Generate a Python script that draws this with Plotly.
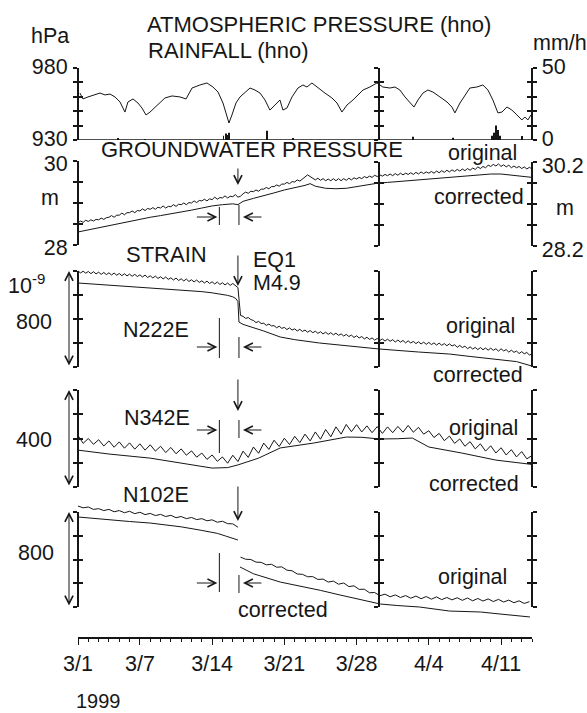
import plotly.graph_objects as go

# ---------------------------------------------------------------- data
# time axis: days since 1999-03-01
DATE_TICKS = [0, 6, 13, 20, 27, 34, 41]
DATE_LABELS = ["3/1", "3/7", "3/14", "3/21", "3/28", "4/4", "4/11"]
EQ_DAY = 15.5                 # EQ1, M4.9
WIN_START, WIN_END = 13.7, 15.6

# atmospheric pressure (hPa)
PRESS_DAY = [
    0.19, 0.48, 0.97, 1.65, 2.13, 2.62, 3.10, 3.59, 4.07, 4.55,
    4.84, 5.33, 5.81, 6.20, 6.59, 6.98, 7.66, 8.43, 9.11, 9.88,
    10.47, 11.05, 11.82, 12.50, 13.08, 13.57, 14.05, 14.44, 14.63, 14.92,
    15.31, 15.70, 16.18, 16.67, 17.15, 17.64, 18.12, 18.60, 19.09, 19.57,
    19.86, 20.25, 20.74, 21.32, 21.80, 22.19, 22.67, 23.26, 23.93, 24.61,
    25.10, 25.58, 26.07, 26.65, 27.13, 27.62, 28.29, 28.97, 29.55, 30.23,
    30.72, 31.20, 31.69, 32.17, 32.56, 32.95, 33.43, 33.91, 34.40, 35.08,
    35.76, 36.24, 36.53, 37.02, 37.50, 37.98, 38.66, 39.24, 39.73, 40.21,
    40.70, 41.09, 41.57, 42.05, 42.54, 43.02, 43.31, 43.60, 43.90]
PRESS_HPA = [
    962.6, 958.5, 959.9, 961.3, 962.6, 961.3, 961.9, 959.9, 956.4, 949.4,
    956.4, 958.5, 955.7, 952.2, 947.4, 949.4, 954.3, 959.2, 960.6, 959.9,
    958.5, 966.1, 968.2, 969.6, 966.8, 963.3, 955.7, 945.3, 941.8, 947.4,
    955.7, 959.9, 963.3, 966.1, 964.7, 962.6, 957.8, 950.8, 954.3, 957.8,
    950.8, 952.2, 959.9, 966.1, 968.2, 966.8, 969.6, 966.1, 962.6, 959.2,
    955.7, 949.4, 954.3, 957.8, 961.3, 964.7, 966.8, 969.6, 966.8, 966.1,
    966.8, 964.7, 959.9, 955.7, 952.9, 957.8, 962.6, 964.7, 963.3, 959.9,
    956.4, 952.9, 948.8, 955.7, 961.3, 966.1, 966.8, 968.2, 964.7, 957.8,
    948.8, 949.4, 952.9, 950.8, 947.4, 943.9, 946.0, 943.9, 947.4]

# hourly rainfall (mm/h)
RAIN_DAY = [3.9, 6.5, 14.1, 14.3, 14.5, 14.6, 18.3, 20.8, 32.5, 36.3,
            40.1, 40.3, 40.5, 40.7, 40.9, 43.0]
RAIN_MMH = [0.8, 0.5, 3.0, 4.5, 3.5, 5.0, 6.5, 1.2, 2.2, 1.5,
            3.0, 5.0, 10.0, 7.0, 3.0, 2.8]

# groundwater pressure head (m), original sampled every 6 h
GW_STEP = 0.25
GW_ORIG = [
    28.53, 28.57, 28.54, 28.59,  28.56, 28.60, 28.57, 28.61,
    28.60, 28.64, 28.61, 28.65,  28.66, 28.70, 28.66, 28.71,
    28.71, 28.76, 28.72, 28.77,  28.77, 28.81, 28.77, 28.82,
    28.81, 28.86, 28.82, 28.87,  28.85, 28.89, 28.85, 28.90,
    28.88, 28.93, 28.88, 28.92,  28.91, 28.96, 28.92, 28.97,
    28.96, 29.00, 28.96, 29.01,  29.00, 29.05, 29.01, 29.06,
    29.05, 29.09, 29.05, 29.10,  29.08, 29.14, 29.09, 29.13,
    29.12, 29.17, 29.12, 29.16,  29.15, 29.20, 29.14, 29.16,
    29.22, 29.26, 29.23, 29.28,  29.27, 29.31, 29.28, 29.33,
    29.33, 29.37, 29.34, 29.39,  29.39, 29.43, 29.40, 29.45,
    29.45, 29.49, 29.46, 29.51,  29.50, 29.55, 29.52, 29.58,
    29.62, 29.67, 29.63, 29.60,  29.55, 29.59, 29.54, 29.58,
    29.53, 29.57, 29.53, 29.58,  29.53, 29.58, 29.53, 29.58,
    29.54, 29.59, 29.55, 29.60,  29.57, 29.61, 29.58, 29.63,
    29.60, 29.64, 29.61, 29.66,  29.63, 29.67, 29.64, 29.68,
    29.65, 29.69, 29.65, 29.70,  29.66, 29.71, 29.67, 29.71,
    29.68, 29.72, 29.68, 29.73,  29.69, 29.74, 29.70, 29.74,
    29.71, 29.75, 29.71, 29.76,  29.72, 29.77, 29.73, 29.78,
    29.74, 29.79, 29.75, 29.80,  29.76, 29.81, 29.77, 29.82,
    29.78, 29.83, 29.80, 29.86,  29.82, 29.87, 29.84, 29.90,
    29.87, 29.92, 29.88, 29.93,  29.87, 29.91, 29.86, 29.90,
    29.84, 29.88, 29.84, 29.87,  29.82, 29.86, 29.81, 29.85,
    29.81]
GW_CORR_DAY = [0, 1, 2, 3, 4, 5, 6, 7, 8, 9, 10, 11, 12, 13, 14, 15, 15.5,
               16, 17, 18, 19, 20, 21, 22, 22.5, 23, 24, 25, 26, 27, 28, 29,
               30, 31, 32, 33, 34, 35, 36, 37, 38, 39, 40, 41, 42, 43, 44]
GW_CORR = [28.31, 28.36, 28.41, 28.47, 28.52, 28.57, 28.62, 28.66, 28.70,
           28.74, 28.78, 28.83, 28.88, 28.93, 28.96, 28.98, 28.96,
           29.04, 29.11, 29.17, 29.24, 29.31, 29.36, 29.42, 29.46, 29.40,
           29.35, 29.34, 29.35, 29.39, 29.43, 29.47, 29.49, 29.51, 29.53,
           29.55, 29.57, 29.59, 29.61, 29.63, 29.65, 29.67, 29.69, 29.69,
           29.66, 29.63, 29.61]

# strain N222E (1e-9), original sampled every 6 h
N222E_STEP = 0.25
N222E_ORIG = [
    800, 784, 798, 782,  796, 778, 794, 776,  790, 772, 788, 770,
    785, 767, 783, 765,  779, 761, 777, 759,  774, 756, 772, 754,
    768, 750, 766, 746,  760, 742, 758, 738,  752, 734, 750, 730,
    743, 725, 741, 721,  735, 717, 733, 713,  727, 709, 725, 705,
    718, 700, 716, 696,  710, 692, 708, 688,  702, 684, 700, 680,
    696, 678, 662, 430,  422, 405, 412, 395,  388, 370, 380, 362,
    365, 347, 358, 342,  345, 327, 340, 322,  330, 312, 326, 308,
    318, 300, 314, 296,  308, 290, 304, 286,  298, 280, 294, 276,
    290, 272, 286, 268,  282, 264, 276, 258,  272, 254, 266, 246,
    260, 242, 254, 234,  248, 230, 242, 224,  238, 220, 234, 216,
    232, 214, 228, 208,  225, 207, 221, 201,  218, 200, 213, 195,
    210, 192, 207, 189,  205, 187, 201, 183,  199, 181, 195, 177,
    193, 175, 186, 164,  180, 162, 174, 152,  168, 150, 163, 145,
    162, 144, 158, 140,  157, 139, 152, 132,  152, 134, 145, 124,
    140, 122, 133, 112,  128, 110, 121, 100,
    108]
N222E_CORR_DAY = [0, 2, 4, 6, 8, 10, 12, 13, 14, 14.5, 15, 15.3, 15.5, 15.6,
                  16, 17, 18, 19.6, 21, 23.4, 26, 29.2, 33, 36, 38, 41, 42.5, 44]
N222E_CORR = [700, 689, 678, 667, 656, 645, 628, 618, 605, 597, 585, 570, 545,
              375, 355, 328, 300, 250, 228, 200, 175, 150, 125, 108, 88, 62,
              45, 8]

# strain N342E (1e-9), original sampled every 12 h
N342E_STEP = 0.5
N342E_ORIG = [
    212, 180, 200, 176, 195, 169, 190, 164, 186, 160, 182, 156,
    178, 152, 174, 148, 168, 142, 163, 137, 157, 131, 149, 123,
    140, 114, 132, 106, 124, 98, 131, 105, 148, 122, 165, 139,
    181, 155, 193, 167, 201, 175, 209, 183, 218, 190, 227, 197,
    237, 207, 248, 218, 258, 228, 257, 227, 252, 224, 249, 221,
    248, 224, 250, 226, 254, 226, 246, 218, 232, 204, 221, 191,
    210, 180, 198, 168, 187, 157, 178, 148, 170, 140, 162, 132,
    154, 124, 146, 116, 130]
N342E_CORR_DAY = [0, 3, 7, 10, 13, 14.5, 15.5, 17.5, 19.6, 22.8, 26, 27.5,
                  29.2, 31, 32.4, 34, 37.2, 40.5, 43.5, 44]
N342E_CORR = [152, 136, 119, 99, 78, 80, 91, 119, 161, 181, 206, 205, 198,
              199, 202, 165, 140, 111, 95, 93]

# strain N102E (1e-9), original sampled every 12 h, gap at EQ1
N102E_STEP = 0.5
N102E_PRE_START = 0.0
N102E_ORIG_PRE = [
    850, 835, 842, 822, 828, 812, 822, 802, 812, 794, 806, 786,
    798, 778, 788, 770, 780, 762, 772, 752, 762, 744, 754, 736,
    744, 726, 734, 714, 722, 702, 700, 672]
N102E_POST_START = 15.75
N102E_ORIG_POST = [
    420, 402, 400, 378, 376, 355, 360, 335, 338, 310, 305, 278,
    275, 255, 256, 232, 235, 210, 218, 192, 202, 172, 178, 148,
    150, 120, 122, 95, 108, 86, 102, 80, 96, 74, 92, 70,
    88, 66, 85, 62, 80, 60, 78, 56, 76, 52, 72, 50,
    68, 46, 64, 42, 58, 36, 52, 30, 45]
N102E_CORR_PRE_DAY = [0, 2, 5, 7, 10, 12, 13.5, 14.3, 15, 15.5]
N102E_CORR_PRE = [758, 741, 720, 707, 675, 645, 620, 598, 575, 564]
N102E_CORR_POST_DAY = [15.7, 17, 19.6, 21.5, 23.5, 25.4, 27.5, 29.3, 31, 33.1,
                       36, 37.5, 39, 40.9, 42.5, 43.8]
N102E_CORR_POST = [337, 280, 210, 177, 140, 101, 60, 25, 12, 0, -34, -38,
                   -42, -59, -72, -84]

# ---------------------------------------------------------------- layout helpers
W, H = 587, 713
INK = "#161616"
FONT = "Liberation Sans, Arial, Helvetica, sans-serif"
FS = 21.5
FS_TITLE = 22


def fx(px):
    return px / W


def fy(py):
    return 1 - py / H


X_LEFT, X_MID, X_RIGHT = 78, 379, 531.5

layout = dict(
    width=W, height=H, autosize=False,
    margin=dict(l=0, r=0, t=0, b=0, pad=0),
    paper_bgcolor="white", plot_bgcolor="rgba(0,0,0,0)",
    showlegend=False,
    font=dict(family=FONT, size=FS, color=INK),
)

layout["xaxis"] = dict(
    domain=[fx(78), fx(532)], range=[0, 44], anchor="free", position=fy(638),
    showline=True, linewidth=1.5, linecolor=INK,
    ticks="outside", ticklen=6, tickwidth=1.3, tickcolor=INK,
    tickmode="array", tickvals=DATE_TICKS, ticktext=DATE_LABELS,
    minor=dict(dtick=1, tick0=0, ticks="outside", ticklen=3, tickwidth=1,
               tickcolor=INK),
    showgrid=False, zeroline=False, fixedrange=True, automargin=False,
    tickfont=dict(size=FS, color=INK),
)


def data_axis(scale_px, scale_rng, band_px):
    """Invisible y axis covering band_px, sharing the scale bar's mapping."""
    (t, b), (lo, hi) = scale_px, scale_rng
    k = (hi - lo) / (b - t)
    return dict(domain=[fy(band_px[1]), fy(band_px[0])],
                range=[lo - (band_px[1] - b) * k, hi + (t - band_px[0]) * k],
                visible=False, anchor="x", fixedrange=True, automargin=False)


# pressure panel and rainfall overlay
layout["yaxis"] = data_axis((68, 140), (930, 980), (68, 140))
layout["yaxis2"] = dict(overlaying="y", range=[0, 50], visible=False,
                        anchor="x", fixedrange=True, automargin=False)
layout["yaxis3"] = data_axis((161, 245), (28, 30), (150, 262))
layout["yaxis4"] = data_axis((271, 367), (0, 800), (258, 382))
layout["yaxis5"] = data_axis((390, 487), (0, 400), (380, 498))
layout["yaxis6"] = data_axis((512, 607), (0, 800), (496, 628))

traces = []
LINE = dict(color=INK, width=1)


def series(x, y, ax):
    traces.append(go.Scatter(x=x, y=y, mode="lines", line=LINE, yaxis=ax,
                             hoverinfo="skip", connectgaps=False))


series(PRESS_DAY, PRESS_HPA, "y")
traces.append(go.Bar(x=RAIN_DAY, y=RAIN_MMH, width=0.09, yaxis="y2",
                     marker=dict(color=INK, line=dict(width=0)),
                     hoverinfo="skip"))
series([i * GW_STEP for i in range(len(GW_ORIG))], GW_ORIG, "y3")
series(GW_CORR_DAY, GW_CORR, "y3")
series([i * N222E_STEP for i in range(len(N222E_ORIG))], N222E_ORIG, "y4")
series(N222E_CORR_DAY, N222E_CORR, "y4")
series([i * N342E_STEP for i in range(len(N342E_ORIG))], N342E_ORIG, "y5")
series(N342E_CORR_DAY, N342E_CORR, "y5")
pre_t = [N102E_PRE_START + i * N102E_STEP for i in range(len(N102E_ORIG_PRE))]
post_t = [N102E_POST_START + i * N102E_STEP for i in range(len(N102E_ORIG_POST))]
series(pre_t + [None] + post_t, N102E_ORIG_PRE + [None] + N102E_ORIG_POST, "y6")
series(N102E_CORR_PRE_DAY + [None] + N102E_CORR_POST_DAY,
       N102E_CORR_PRE + [None] + N102E_CORR_POST, "y6")

# ---------------------------------------------------------------- scale bars
# each bar: two coincident axes, ticks outward + inward -> crossing ticks
axis_no = [7]


def scale_bar(pos, top, bot, rng, step, labels=None, side="left", shift=0):
    n = round((rng[1] - rng[0]) / step)
    vals = [round(rng[0] + i * step, 3) for i in range(n + 1)]
    for inward in (False, True):
        name = "yaxis%d" % axis_no[0]
        ax = dict(anchor="free", position=fx(pos), domain=[fy(bot), fy(top)],
                  range=rng, side=side, showline=True, linecolor=INK,
                  linewidth=2, ticks="inside" if inward else "outside",
                  ticklen=4, tickwidth=2, tickcolor=INK, tickmode="array",
                  tickvals=vals, showgrid=False, zeroline=False,
                  fixedrange=True, showticklabels=False, automargin=False)
        if labels and not inward:
            ax["showticklabels"] = True
            ax["ticktext"] = [labels.get(v, "") for v in vals]
            ax["tickfont"] = dict(size=FS, color=INK)
            ax["ticklabelstandoff"] = 1
            ax["ticklabelshift"] = shift   # +down / -up, in px
        layout[name] = ax
        traces.append(go.Scatter(x=[], y=[], yaxis="y%d" % axis_no[0],
                                 hoverinfo="skip"))
        axis_no[0] += 1


# pressure / rainfall
scale_bar(X_LEFT, 68, 140, [930, 980], 10, {930: "930", 980: "980"}, shift=-2)
scale_bar(X_MID, 68, 140, [930, 980], 10)
scale_bar(X_RIGHT, 68, 140, [0, 50], 10, {0: "0", 50: "50"}, side="right",
          shift=-2)
# groundwater
scale_bar(X_LEFT, 161, 245, [28, 30], 0.5, {28: "28", 30: "30"}, shift=2)
scale_bar(X_MID, 162, 246, [28.2, 30.2], 0.5)
scale_bar(X_RIGHT, 162, 246, [28.2, 30.2], 0.5, {28.2: "28.2", 30.2: "30.2"},
          side="right", shift=3)
# strain components
for top, bot, span, step in [(271, 367, 800, 200), (390, 487, 400, 100),
                             (512, 607, 800, 200)]:
    scale_bar(X_LEFT, top, bot, [0, span], step)
    scale_bar(X_MID, top, bot, [0, span], step)
    scale_bar(X_RIGHT, top, bot, [0, span], step, side="right")

# ---------------------------------------------------------------- annotations
ann = []


def text(s, x, y, xanchor="left", size=FS):
    ann.append(dict(text=s, x=fx(x), y=fy(y), xref="paper", yref="paper",
                    xanchor=xanchor, yanchor="middle", showarrow=False,
                    font=dict(size=size, color=INK, family=FONT)))


text("hPa", 50, 36, "center")
text("ATMOSPHERIC PRESSURE (hno)", 145, 24, size=FS_TITLE)
text("RAINFALL (hno)", 146, 50, size=FS_TITLE)
text("mm/h", 531, 43)
text("GROUNDWATER PRESSURE", 99, 150, size=FS_TITLE)
text("original", 446, 153)
text("corrected", 432, 197)
text("m", 50, 198, "center")
text("m", 565, 208, "center")
text("STRAIN", 124, 255, size=FS_TITLE)
text("EQ1", 251, 260)
text("M4.9", 251, 283)
text("10<sup>-9</sup>", 6, 284)
text("800", 14, 322)
text("N222E", 121, 330)
text("original", 444, 326)
text("corrected", 431, 375)
text("N342E", 122, 418)
text("400", 14, 440)
text("original", 447, 428)
text("corrected", 427, 484)
text("N102E", 121, 495)
text("800", 16, 553)
text("original", 436, 577)
text("corrected", 236, 610)
text("1999", 74, 701, size=20)

ARROW = dict(showarrow=True, arrowhead=5, arrowsize=1.6, arrowwidth=1,
             arrowcolor=INK, text="")


def arrow_at_day(day, y_head, dx, dy, standoff=0):
    a = dict(ARROW, x=day, y=fy(y_head), xref="x", yref="paper", ax=dx,
             ay=dy, standoff=standoff)
    ann.append(a)


# EQ1 markers (down arrows)
for top, bot in [(167, 185), (254, 286), (378, 411), (485, 521)]:
    arrow_at_day(EQ_DAY, bot, 0, -(bot - top))

# correction window markers: ->|  |<-
shapes = []
windows = [  # arrow row, left bar span, right bar span
    (217, (207, 225), (205, 225)),
    (347, (318, 358), (337, 358)),
    (430, (420, 453), (420, 438)),
    (583, (553, 592), (575, 593)),
]
for yrow, (l0, l1), (r0, r1) in windows:
    shapes.append(dict(type="line", xref="x", yref="paper", x0=WIN_START,
                       x1=WIN_START, y0=fy(l1), y1=fy(l0),
                       line=dict(color=INK, width=1)))
    shapes.append(dict(type="line", xref="x", yref="paper", x0=WIN_END,
                       x1=WIN_END, y0=fy(r1), y1=fy(r0),
                       line=dict(color=INK, width=1)))
    arrow_at_day(WIN_START, yrow, -24, 0, standoff=2)
    arrow_at_day(WIN_END, yrow, 24, 0, standoff=4)

# double-headed span arrows beside strain scale bars
for top, bot in [(271, 367), (390, 487), (512, 607)]:
    ann.append(dict(ARROW, x=fx(69), y=fy(top), xref="paper", yref="paper",
                    ax=0, ay=bot - top, arrowside="end+start"))

# rainfall baseline
shapes.append(dict(type="line", xref="paper", yref="y", x0=fx(78),
                   x1=fx(532), y0=930, y1=930,
                   line=dict(color=INK, width=1.5)))

layout["annotations"] = ann
layout["shapes"] = shapes

fig = go.Figure(data=traces, layout=layout)
fig.write_html("out.html")
